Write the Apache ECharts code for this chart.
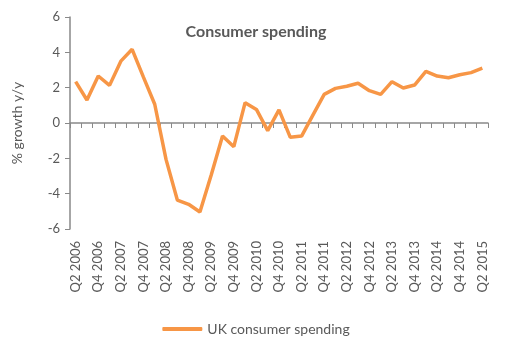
<!DOCTYPE html>
<html>
<head>
<meta charset="utf-8">
<script src="https://cdn.jsdelivr.net/npm/echarts@6/dist/echarts.min.js"></script>
<style>
  html, body { margin: 0; padding: 0; background: #fff; }
  #chart { width: 512px; height: 354px; }
</style>
</head>
<body>
<div id="chart"></div>
<script>
// quarters Q2 2006 .. Q2 2015
var quarters = [];
for (var y = 2006; y <= 2015; y++) {
  for (var q = 1; q <= 4; q++) {
    if ((y === 2006 && q < 2) || (y === 2015 && q > 2)) continue;
    quarters.push('Q' + q + ' ' + y);
  }
}
var spending = [2.34, 1.3, 2.66, 2.13, 3.5, 4.17, 2.6, 1.06, -2.06, -4.36, -4.6, -5.04, -2.94,
  -0.74, -1.34, 1.15, 0.77, -0.43, 0.74, -0.81, -0.74, 0.45, 1.62, 1.96, 2.08, 2.25, 1.83,
  1.62, 2.34, 1.98, 2.15, 2.92, 2.66, 2.56, 2.73, 2.85, 3.1];
var yTicks = { min: -6, max: 6, step: 2 };

var grey = '#595959';
var axisGrey = '#898989';
var font = 'Lato';

var chart = echarts.init(document.getElementById('chart'));
chart.setOption({
  animation: false,
  title: {
    text: 'Consumer spending',
    left: 'center', top: 19,
    textStyle: { color: grey, fontSize: 16, fontWeight: 'bold', fontFamily: font }
  },
  legend: {
    data: ['UK consumer spending'],
    bottom: 13, left: 'center',
    itemWidth: 40, itemHeight: 4, itemGap: 4,
    icon: 'roundRect',
    textStyle: { color: grey, fontSize: 14, fontFamily: font }
  },
  grid: { left: 70, right: 24, top: 17, bottom: 125 },
  xAxis: [{
    type: 'category',
    data: quarters,
    axisLine: { onZero: true, lineStyle: { color: axisGrey, width: 1.5 } },
    axisTick: { show: true, interval: 0, length: 5, lineStyle: { color: axisGrey } },
    axisLabel: { show: false }
  }, {
    type: 'category',
    data: quarters,
    position: 'bottom',
    axisLine: { show: false, onZero: false },
    axisTick: { show: false },
    axisLabel: {
      interval: 1, rotate: 90, margin: 12,
      color: grey, fontSize: 13, fontFamily: font
    }
  }],
  yAxis: {
    type: 'value',
    min: yTicks.min, max: yTicks.max, interval: yTicks.step,
    name: '% growth y/y',
    nameLocation: 'middle', nameGap: 46, nameRotate: 90,
    nameTextStyle: { color: grey, fontSize: 14, fontFamily: font },
    axisLine: { show: true, lineStyle: { color: axisGrey, width: 1.5 } },
    axisTick: { show: true, length: 5, lineStyle: { color: axisGrey } },
    splitLine: { show: false },
    axisLabel: { color: grey, fontSize: 13, fontFamily: font, margin: 10 }
  },
  series: [{
    name: 'UK consumer spending',
    type: 'line',
    data: spending,
    symbol: 'none',
    itemStyle: { color: '#F79646' },
    lineStyle: { color: '#F79646', width: 3.5 }
  }]
});
</script>
</body>
</html>
